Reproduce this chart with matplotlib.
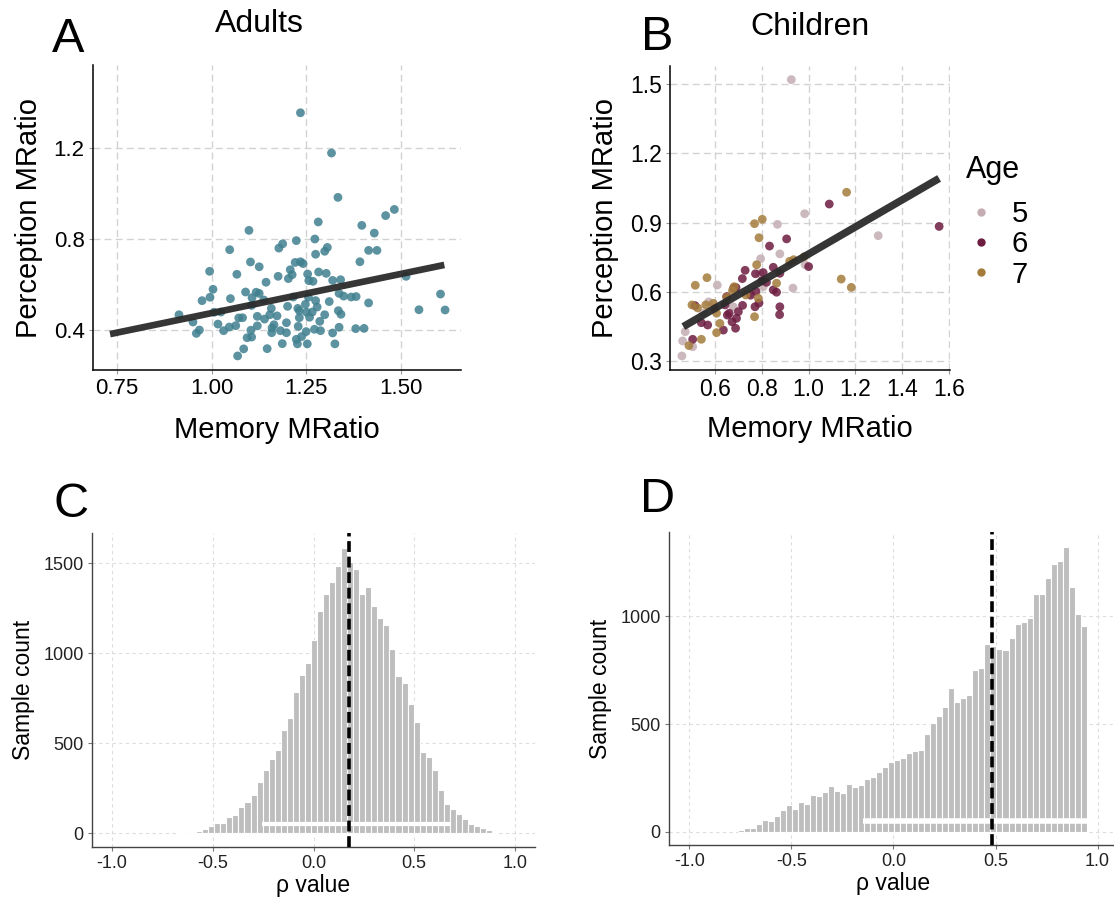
import numpy as np
import matplotlib
matplotlib.use("Agg")
import matplotlib.pyplot as plt
from matplotlib.lines import Line2D

plt.rcParams['font.family'] = ['Liberation Sans', 'DejaVu Sans']

# ---- Panel A: adults, memory vs perception MRatio ----
adult_memory = [1.235, 1.317, 1.334, 1.483, 1.460, 1.282, 1.397, 1.099, 1.430, 1.273,
                1.224, 1.188, 1.178, 1.306, 1.299, 1.048, 1.415, 1.437, 1.275, 1.103,
                1.221, 1.235, 1.242, 1.392, 1.126, 1.208, 0.995, 1.213, 1.067, 1.283,
                1.303, 1.254, 1.203, 1.176, 1.257, 1.268, 1.320, 1.341, 1.144, 1.514,
                1.004, 1.090, 1.118, 1.126, 1.337, 1.349, 1.369, 1.382, 1.216, 0.996,
                0.975, 1.050, 1.107, 1.138, 1.256, 1.275, 1.311, 1.415, 1.605, 1.106,
                1.158, 1.201, 1.228, 1.248, 1.279, 1.007, 1.025, 0.914, 1.232, 1.251,
                1.266, 1.335, 1.342, 1.548, 1.617, 0.951, 1.017, 1.072, 1.082, 1.121,
                1.140, 1.154, 1.173, 1.232, 1.259, 1.299, 1.286, 1.165, 1.160, 1.198,
                1.047, 1.064, 1.121, 1.032, 0.968, 0.960, 1.104, 1.159, 1.182, 1.198,
                1.229, 1.250, 1.272, 1.288, 1.337, 1.381, 1.403, 1.320, 1.094, 1.106,
                1.224, 1.238, 1.187, 1.227, 1.253, 1.326, 1.085, 1.147, 1.069]
adult_perception = [1.355, 1.178, 0.983, 0.930, 0.903, 0.875, 0.860, 0.838, 0.826, 0.800,
                    0.793, 0.779, 0.760, 0.763, 0.746, 0.753, 0.750, 0.750, 0.733, 0.699,
                    0.697, 0.700, 0.692, 0.700, 0.678, 0.665, 0.658, 0.643, 0.645, 0.655,
                    0.649, 0.646, 0.626, 0.636, 0.617, 0.614, 0.618, 0.621, 0.610, 0.636,
                    0.579, 0.567, 0.566, 0.561, 0.561, 0.549, 0.545, 0.547, 0.545, 0.544,
                    0.529, 0.538, 0.542, 0.532, 0.544, 0.529, 0.525, 0.519, 0.558, 0.508,
                    0.495, 0.504, 0.495, 0.513, 0.501, 0.478, 0.479, 0.467, 0.485, 0.478,
                    0.479, 0.485, 0.469, 0.489, 0.488, 0.435, 0.426, 0.453, 0.454, 0.460,
                    0.448, 0.467, 0.462, 0.454, 0.456, 0.467, 0.438, 0.423, 0.409, 0.432,
                    0.413, 0.419, 0.418, 0.397, 0.400, 0.385, 0.399, 0.388, 0.397, 0.388,
                    0.416, 0.393, 0.403, 0.397, 0.412, 0.406, 0.407, 0.387, 0.366, 0.369,
                    0.359, 0.371, 0.340, 0.339, 0.339, 0.339, 0.317, 0.318, 0.286]
adult_fit_x = [0.732, 1.615]
adult_fit_y = [0.382, 0.686]

# ---- Panel B: children by age ----
age5_memory = [0.926, 0.983, 0.867, 1.297, 0.877, 0.795, 0.933, 0.610, 0.573, 0.985,
               0.459, 0.462, 0.505, 0.473, 0.678, 0.792, 0.806, 0.749, 0.550]
age5_perception = [1.520, 0.939, 0.893, 0.844, 0.765, 0.744, 0.617, 0.630, 0.557, 0.718,
                   0.323, 0.388, 0.363, 0.428, 0.536, 0.681, 0.623, 0.594, 0.508]
age6_memory = [1.088, 1.557, 0.906, 0.833, 0.729, 0.773, 0.806, 0.849, 0.717, 0.680,
               0.849, 0.863, 0.800, 0.877, 1.000, 0.775, 0.752, 0.690, 0.650, 0.643,
               0.661, 0.692, 0.673, 0.688, 0.636, 0.569, 0.542, 0.505, 0.515, 0.599,
               0.771, 0.788, 0.877, 0.876, 0.820, 0.718, 0.653, 0.700]
age6_perception = [0.981, 0.884, 0.830, 0.799, 0.694, 0.679, 0.684, 0.707, 0.658, 0.617,
                   0.609, 0.599, 0.648, 0.681, 0.710, 0.603, 0.586, 0.619, 0.580, 0.544,
                   0.508, 0.486, 0.471, 0.443, 0.435, 0.457, 0.467, 0.395, 0.541, 0.529,
                   0.536, 0.552, 0.536, 0.502, 0.642, 0.542, 0.500, 0.515]
age7_memory = [1.162, 0.802, 0.769, 0.788, 0.778, 0.936, 0.919, 1.139, 1.182, 0.516,
               0.566, 0.502, 0.526, 0.542, 0.489, 0.593, 0.607, 0.621, 0.607, 0.769,
               0.785, 0.682, 0.675, 0.732, 0.863, 0.981, 0.651, 0.561]
age7_perception = [1.032, 0.915, 0.896, 0.835, 0.718, 0.740, 0.733, 0.656, 0.620, 0.629,
                   0.662, 0.544, 0.531, 0.395, 0.368, 0.551, 0.508, 0.464, 0.424, 0.493,
                   0.573, 0.623, 0.606, 0.587, 0.638, 0.753, 0.577, 0.544]
child_fit_x = [0.465, 1.557]
child_fit_y = [0.450, 1.092]

# ---- Panel C / D: bootstrap distributions of rho ----
adult_bin_start, adult_bin_width = -0.673, 0.030
adult_counts = [2, 2, 4, 11, 20, 37, 54, 57, 87, 102, 146, 172, 211, 282, 350, 412, 462,
                573, 640, 786, 877, 946, 1070, 1231, 1327, 1394, 1481, 1585, 1504, 1465,
                1327, 1368, 1263, 1192, 1155, 1025, 871, 831, 718, 616, 452, 425, 352,
                241, 161, 133, 108, 76, 48, 41, 28, 15, 6]
adult_rho = 0.175
adult_ci = [-0.256, 0.677]

child_bin_start, child_bin_width = -0.764, 0.0295
child_counts = [8, 19, 19, 36, 56, 51, 71, 101, 122, 105, 136, 127, 170, 167, 184, 212,
                190, 181, 220, 209, 215, 246, 254, 277, 302, 322, 333, 344, 365, 373, 381,
                452, 505, 536, 580, 669, 602, 619, 635, 751, 762, 870, 862, 850, 844, 902,
                966, 974, 991, 1105, 1105, 1180, 1245, 1260, 1325, 1135, 1012, 958]
child_rho = 0.482
child_ci = [-0.151, 0.976]

fig = plt.figure(figsize=(11.14, 8.99), dpi=100)
axA = fig.add_axes([0.0835, 0.5884, 0.3303, 0.3393])
axB = fig.add_axes([0.6014, 0.5884, 0.2513, 0.3382])
axC = fig.add_axes([0.0826, 0.0578, 0.3977, 0.3493])
axD = fig.add_axes([0.6005, 0.0601, 0.4031, 0.3482])


def style_scatter(ax):
    ax.grid(True, color='#d2d2d2', linestyle=(0, (5, 3)), linewidth=1.0)
    ax.set_axisbelow(True)
    for s in ['top', 'right']:
        ax.spines[s].set_visible(False)
    for s in ['left', 'bottom']:
        ax.spines[s].set_linewidth(1.1)
        ax.spines[s].set_color('black')
    ax.tick_params(labelsize=16, length=3, color='#999999', pad=3)


def style_hist(ax):
    ax.grid(True, color='#dddddd', linestyle=(0, (3, 3)), linewidth=0.8)
    ax.set_axisbelow(True)
    for s in ['top', 'right']:
        ax.spines[s].set_visible(False)
    for s in ['left', 'bottom']:
        ax.spines[s].set_linewidth(1.0)
        ax.spines[s].set_color('#444444')
    ax.tick_params(labelsize=13, length=3, color='#777777', pad=3, labelcolor='#222222')


# Panel A
style_scatter(axA)
axA.scatter(adult_memory, adult_perception, s=40, color='#40808f', alpha=0.85,
            edgecolors='none', zorder=2)
axA.plot(adult_fit_x, adult_fit_y, color='#2b2b2b', lw=4.8, alpha=0.95,
         solid_capstyle='butt', zorder=3)
axA.set_xlim(0.687, 1.659)
axA.set_ylim(0.224, 1.565)
axA.set_xticks([0.75, 1.00, 1.25, 1.50])
axA.set_xticklabels(['0.75', '1.00', '1.25', '1.50'])
axA.set_yticks([0.4, 0.8, 1.2])
axA.set_yticklabels(['0.4', '0.8', '1.2'])
axA.set_xlabel('Memory MRatio', fontsize=21, labelpad=12)
axA.set_ylabel('Perception MRatio', fontsize=21, labelpad=8)

# Panel B
style_scatter(axB)
col5, col6, col7 = '#c4adb3', '#6d1c40', '#a47b3b'
axB.scatter(age5_memory, age5_perception, s=40, color=col5, alpha=0.85, edgecolors='none', zorder=2)
axB.scatter(age6_memory, age6_perception, s=40, color=col6, alpha=0.85, edgecolors='none', zorder=2)
axB.scatter(age7_memory, age7_perception, s=40, color=col7, alpha=0.85, edgecolors='none', zorder=2)
axB.plot(child_fit_x, child_fit_y, color='#2b2b2b', lw=5.4, alpha=0.95,
         solid_capstyle='butt', zorder=3)
axB.set_xlim(0.408, 1.603)
axB.set_ylim(0.262, 1.579)
axB.set_xticks([0.6, 0.8, 1.0, 1.2, 1.4, 1.6])
axB.set_xticklabels(['0.6', '0.8', '1.0', '1.2', '1.4', '1.6'])
axB.set_yticks([0.3, 0.6, 0.9, 1.2, 1.5])
axB.set_yticklabels(['0.3', '0.6', '0.9', '1.2', '1.5'])
axB.tick_params(labelsize=16.5)
axB.set_xlabel('Memory MRatio', fontsize=21, labelpad=10)
axB.set_ylabel('Perception MRatio', fontsize=21, labelpad=8)

handles = [Line2D([], [], marker='o', ls='none', color=c, markersize=5)
           for c in [col5, col6, col7]]
leg = fig.legend(handles, ['5', '6', '7'], title='Age', loc='upper left',
                 bbox_to_anchor=(0.857, 0.841), frameon=False, fontsize=21,
                 title_fontsize=22, handletextpad=0.55, labelspacing=0.08,
                 handlelength=1.0, borderaxespad=0)
leg._legend_box.align = 'left'
leg._legend_box.sep = 11

# Panel C
style_hist(axC)
adult_lefts = [adult_bin_start + i * adult_bin_width for i in range(len(adult_counts))]
axC.bar(adult_lefts, adult_counts, width=adult_bin_width, align='edge',
        color='#bebebe', edgecolor='white', linewidth=0.8, zorder=2)
axC.hlines(50, adult_ci[0], adult_ci[1], color='white', lw=3, zorder=3)
axC.axvline(adult_rho, color='black', lw=2.6, ls=(0, (3, 1.3)), zorder=4)
axC.set_xlim(-1.1, 1.1)
axC.set_ylim(-78, 1667)
axC.set_xticks([-1.0, -0.5, 0.0, 0.5, 1.0])
axC.set_xticklabels(['-1.0', '-0.5', '0.0', '0.5', '1.0'])
axC.set_yticks([0, 500, 1000, 1500])
axC.set_xlabel('ρ value', fontsize=16.5, labelpad=1)
axC.set_ylabel('Sample count', fontsize=16.5, labelpad=6)

# Panel D
style_hist(axD)
child_lefts = [child_bin_start + i * child_bin_width for i in range(len(child_counts))]
axD.bar(child_lefts, child_counts, width=child_bin_width, align='edge',
        color='#bebebe', edgecolor='white', linewidth=0.8, zorder=2)
axD.hlines(50, child_ci[0], child_ci[1], color='white', lw=4, zorder=3)
axD.axvline(child_rho, color='black', lw=2.6, ls=(0, (3, 1.3)), zorder=4)
axD.set_xlim(-1.1, 1.1)
axD.set_ylim(-62, 1393)
axD.set_xticks([-1.0, -0.5, 0.0, 0.5, 1.0])
axD.set_xticklabels(['-1.0', '-0.5', '0.0', '0.5', '1.0'])
axD.set_yticks([0, 500, 1000])
axD.set_xlabel('ρ value', fontsize=16.5, labelpad=1)
axD.set_ylabel('Sample count', fontsize=16.5, labelpad=6)

# panel letters and titles
fig.text(52 / 1114, 1 - 52 / 899, 'A', fontsize=35, ha='left', va='baseline')
fig.text(641 / 1114, 1 - 50 / 899, 'B', fontsize=35, ha='left', va='baseline')
fig.text(53 / 1114, 1 - 517 / 899, 'C', fontsize=35, ha='left', va='baseline')
fig.text(640 / 1114, 1 - 512 / 899, 'D', fontsize=35, ha='left', va='baseline')
fig.text(259 / 1114, 1 - 32 / 899, 'Adults', fontsize=23, ha='center', va='baseline')
fig.text(810 / 1114, 1 - 35 / 899, 'Children', fontsize=23, ha='center', va='baseline')

plt.savefig('out.png', dpi=100)
